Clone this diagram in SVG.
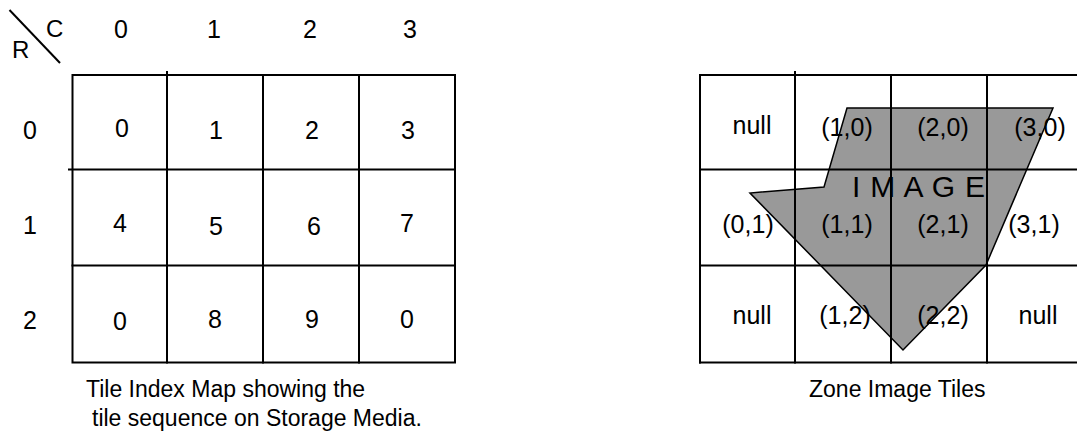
<svg xmlns="http://www.w3.org/2000/svg" width="1077" height="441" viewBox="0 0 1077 441">
<style>
text{font-family:"Liberation Sans",Arial,sans-serif;fill:#000}
.h{font-size:24px}
.c{font-size:25px;text-anchor:middle}
.t{font-size:25px;text-anchor:middle}
.cap{font-size:23px}
.g{stroke:#000;stroke-width:2;fill:none;stroke-linecap:square}
</style>
<rect width="1077" height="441" fill="#fff"/>
<g id="corner">
<line x1="9.5" y1="10" x2="60" y2="63" stroke="#000" stroke-width="2"/>
<text class="h" x="46" y="37">C</text>
<text class="h" x="12" y="58">R</text>
</g>
<g id="col-headers">
<text class="c" x="121" y="38">0</text>
<text class="c" x="214" y="38">1</text>
<text class="c" x="310" y="38">2</text>
<text class="c" x="410" y="38">3</text>
</g>
<g id="row-headers">
<text class="c" x="30" y="139">0</text>
<text class="c" x="30" y="234">1</text>
<text class="c" x="30" y="329">2</text>
</g>
<g id="index-map">
<g class="g">
<rect x="72.5" y="75" width="382.5" height="287.5"/>
<line x1="167" y1="72" x2="167" y2="362.5"/>
<line x1="263" y1="75" x2="263" y2="362.5"/>
<line x1="359" y1="75" x2="359" y2="362.5"/>
<line x1="69" y1="169.5" x2="455" y2="169.5"/>
<line x1="72.5" y1="265.5" x2="455" y2="265.5"/>
</g>
<g id="cell-0-0"><text class="c" x="122" y="137">0</text></g>
<g id="cell-1-0"><text class="c" x="216" y="139">1</text></g>
<g id="cell-2-0"><text class="c" x="312" y="139">2</text></g>
<g id="cell-3-0"><text class="c" x="408" y="139">3</text></g>
<g id="cell-0-1"><text class="c" x="120" y="232">4</text></g>
<g id="cell-1-1"><text class="c" x="216" y="235">5</text></g>
<g id="cell-2-1"><text class="c" x="314" y="235">6</text></g>
<g id="cell-3-1"><text class="c" x="407" y="232">7</text></g>
<g id="cell-0-2"><text class="c" x="120" y="330">0</text></g>
<g id="cell-1-2"><text class="c" x="215" y="328">8</text></g>
<g id="cell-2-2"><text class="c" x="312" y="328">9</text></g>
<g id="cell-3-2"><text class="c" x="407" y="328">0</text></g>
</g>
<g id="caption-left">
<text class="cap" x="86" y="397">Tile Index Map showing the</text>
<text class="cap" x="92" y="426">tile sequence on Storage Media.</text>
</g>
<g id="zone-tiles">
<polygon id="image-shape" points="847,108 1053,108 986,265 903,350 750,193 824,187" fill="#999" stroke="#000" stroke-width="1.5" stroke-linejoin="miter"/>
<g class="g">
<line x1="700" y1="75" x2="1080" y2="75"/>
<line x1="700" y1="169.5" x2="1080" y2="169.5"/>
<line x1="700" y1="265.5" x2="1080" y2="265.5"/>
<line x1="700" y1="362.5" x2="1080" y2="362.5"/>
<line x1="700" y1="75" x2="700" y2="362.5"/>
<line x1="795" y1="72" x2="795" y2="362.5"/>
<line x1="891" y1="75" x2="891" y2="362.5"/>
<line x1="987" y1="75" x2="987" y2="362.5"/>
</g>
<text id="image-label" x="852" y="197" font-size="30" textLength="133" lengthAdjust="spacing">I M A G E</text>
<g id="tile-null-a"><text class="t" x="752" y="134">null</text></g>
<g id="tile-1-0"><text class="t" x="847" y="136">(1,0)</text></g>
<g id="tile-2-0"><text class="t" x="943" y="136">(2,0)</text></g>
<g id="tile-3-0"><text class="t" x="1040" y="136">(3,0)</text></g>
<g id="tile-0-1"><text class="t" x="748" y="233">(0,1)</text></g>
<g id="tile-1-1"><text class="t" x="847" y="233">(1,1)</text></g>
<g id="tile-2-1"><text class="t" x="943" y="233">(2,1)</text></g>
<g id="tile-3-1"><text class="t" x="1034" y="233">(3,1)</text></g>
<g id="tile-null-b"><text class="t" x="752" y="324">null</text></g>
<g id="tile-1-2"><text class="t" x="845" y="324">(1,2)</text></g>
<g id="tile-2-2"><text class="t" x="943" y="324">(2,2)</text></g>
<g id="tile-null-c"><text class="t" x="1038" y="324">null</text></g>
</g>
<g id="caption-right">
<text class="cap" x="809" y="397">Zone Image Tiles</text>
</g>
</svg>
